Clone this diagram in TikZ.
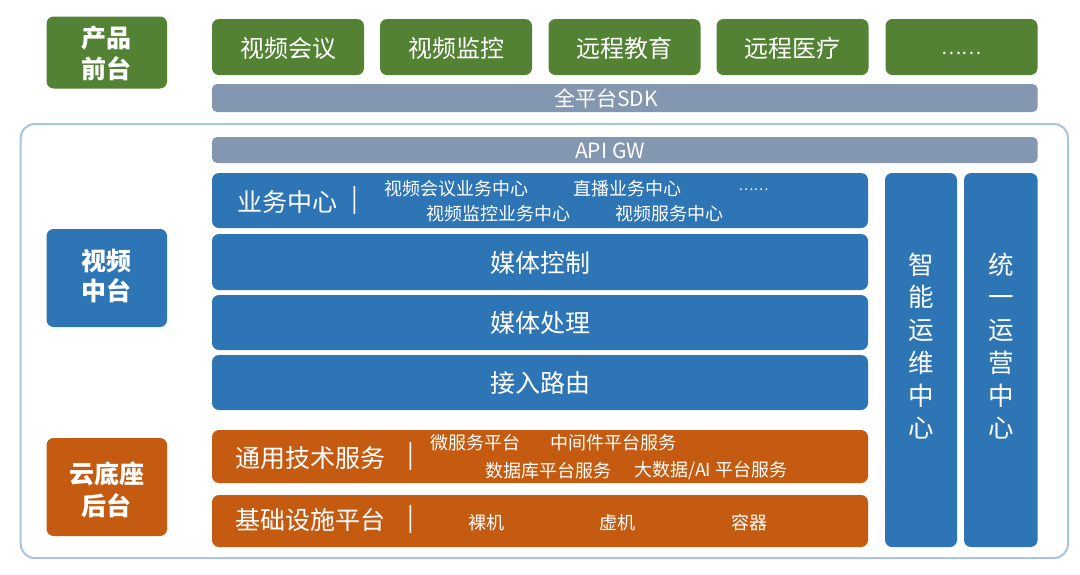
\documentclass[tikz,border=0pt]{standalone}
\usepackage{fontspec}
\setmainfont{Noto Sans CJK SC}
\definecolor{pgreen}{HTML}{548235}
\definecolor{pblue}{HTML}{2E75B6}
\definecolor{porange}{HTML}{C55A11}
\definecolor{pgrey}{HTML}{8497B0}
\definecolor{pframe}{HTML}{A9C4DE}
\begin{document}
\begin{tikzpicture}[x=1pt,y=-1pt,
  blk/.style={rounded corners=7pt, inner sep=0pt, outer sep=0pt, text=white, align=center},
  greenblk/.style={blk, fill=pgreen},
  blueblk/.style={blk, fill=pblue},
  orangeblk/.style={blk, fill=porange},
  greyblk/.style={blk, fill=pgrey, rounded corners=5pt},
  wtext/.style={text=white, inner sep=0pt, align=center},
  fbig/.style={wtext, font=\fontsize{25}{30}\selectfont},
  fmid/.style={wtext, font=\fontsize{24}{30}\selectfont},
  fsmall/.style={wtext, font=\fontsize{18}{20}\selectfont},
  fbar/.style={wtext, font=\fontsize{21}{24}\selectfont},
  flabel/.style={wtext, font=\fontsize{25}{30.5}\selectfont\bfseries},
  fcol/.style={wtext, font=\fontsize{25.5}{32.7}\selectfont},
  sepbar/.style={wtext, font=\fontsize{25}{30}\selectfont}
]
\useasboundingbox (0,0) rectangle (1080,574);
% outer frame
\draw[pframe, line width=2pt, rounded corners=14pt] (20.7,124) rectangle (1068,558);

% left labels
\node[greenblk, minimum width=120.5pt, minimum height=72pt] (pf) at (106.8,52.5) {};
\node[flabel] (pft) at (106.8,53.5) {产品\\前台};
\node[blueblk, minimum width=120.5pt, minimum height=98pt] (vm) at (106.8,278) {};
\node[flabel] (vmt) at (106.8,276) {视频\\中台};
\node[orangeblk, minimum width=120.5pt, minimum height=98pt] (cb) at (106.8,487) {};
\node[flabel, font=\fontsize{25}{32.5}\selectfont\bfseries] (cbt) at (106.8,490) {云底座\\后台};

% top product boxes
\node[greenblk, minimum width=152pt, minimum height=56pt] (g1) at (288,47) {};
\node[greenblk, minimum width=152pt, minimum height=56pt] (g2) at (456,47) {};
\node[greenblk, minimum width=152pt, minimum height=56pt] (g3) at (624.5,47) {};
\node[greenblk, minimum width=152pt, minimum height=56pt] (g4) at (792.5,47) {};
\node[greenblk, minimum width=152pt, minimum height=56pt] (g5) at (961.5,47) {};
\node[fmid] (g1t) at (288,48) {视频会议};
\node[fmid] (g2t) at (456,48) {视频监控};
\node[fmid] (g3t) at (624.5,48) {远程教育};
\node[fmid] (g4t) at (792.5,48) {远程医疗};
\node[wtext, font=\fontsize{19}{22}\selectfont] (g5t) at (961.5,53) {……};

% grey bars
\node[greyblk, minimum width=825.6pt, minimum height=28pt] (sdk) at (624.8,98) {};
\node[fbar] (sdkt) at (606,98.5) {全平台SDK};
\node[greyblk, minimum width=825.6pt, minimum height=26pt] (api) at (624.8,150) {};
\node[fbar] (apit) at (610,150.5) {API GW};

% blue bars
\node[blueblk, minimum width=656pt, minimum height=55pt] (biz) at (540,200.5) {};
\node[fbig, anchor=west] (bizt) at (237.5,202) {业务中心};
\node[sepbar] (bizs) at (355,200.5) {|};
\node[fsmall] (b1) at (456,188.3) {视频会议业务中心};
\node[fsmall] (b2) at (627.5,188.3) {直播业务中心};
\node[wtext, font=\fontsize{14}{16}\selectfont] (b3) at (753.5,190) {……};
\node[fsmall] (b4) at (498,213.3) {视频监控业务中心};
\node[fsmall] (b5) at (669.5,213.3) {视频服务中心};

\node[blueblk, minimum width=656pt, minimum height=56pt] (mc) at (540,262) {};
\node[fbig] (mct) at (540,263) {媒体控制};
\node[blueblk, minimum width=656pt, minimum height=55pt] (mp) at (540,322.5) {};
\node[fbig] (mpt) at (540,323.5) {媒体处理};
\node[blueblk, minimum width=656pt, minimum height=55pt] (ar) at (540,382.5) {};
\node[fbig] (art) at (540,383.5) {接入路由};

% right columns
\node[blueblk, minimum width=72pt, minimum height=374pt] (ops) at (921,360) {};
\node[fcol] (opst) at (921,346) {智\\能\\运\\维\\中\\心};
\node[blueblk, minimum width=73.6pt, minimum height=374pt] (run) at (1000.8,360) {};
\node[fcol] (runt) at (1000.8,346) {统\\一\\运\\营\\中\\心};

% orange bars
\node[orangeblk, minimum width=656pt, minimum height=53pt] (tech) at (540,456.5) {};
\node[fbig, anchor=west] (techt) at (235,458) {通用技术服务};
\node[sepbar] (techs) at (410.7,457) {|};
\node[fsmall] (t1) at (475,442.5) {微服务平台};
\node[fsmall] (t2) at (613.7,442.5) {中间件平台服务};
\node[fsmall] (t3) at (548,470.5) {数据库平台服务};
\node[fsmall] (t4) at (711,470.5) {大数据/AI 平台服务};

\node[orangeblk, minimum width=656pt, minimum height=52pt] (infra) at (540,521) {};
\node[fbig, anchor=west] (infrat) at (235,520) {基础设施平台};
\node[sepbar] (infras) at (410.7,520) {|};
\node[fsmall] (i1) at (486.4,522.5) {裸机};
\node[fsmall] (i2) at (617.5,522.5) {虚机};
\node[fsmall] (i3) at (749,522.5) {容器};
\end{tikzpicture}
\end{document}
